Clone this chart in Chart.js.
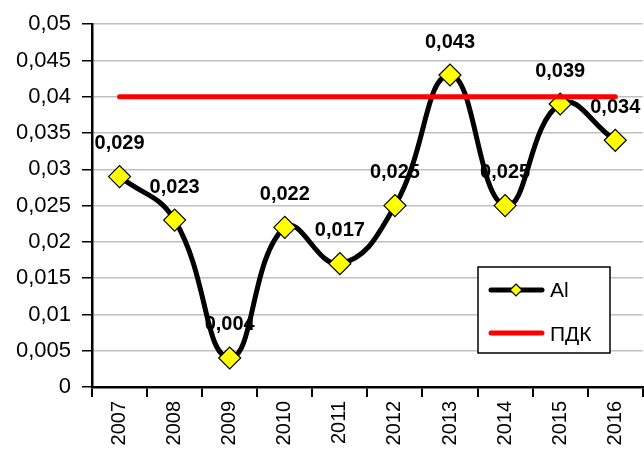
<!DOCTYPE html>
<html lang="ru">
<head>
<meta charset="UTF-8">
<title>Al</title>
<script src="https://cdn.jsdelivr.net/npm/chart.js@4.4.1/dist/chart.umd.min.js"></script>
<style>
  html, body { margin: 0; padding: 0; background: #fff; overflow: hidden; }
  #wrap { width: 655px; height: 451px; }
</style>
</head>
<body>
<div id="wrap"><canvas id="chart"></canvas></div>
<script>
    // chart data
    const years = ['2007', '2008', '2009', '2010', '2011', '2012', '2013', '2014', '2015', '2016'];
    const alValues = [0.029, 0.023, 0.004, 0.022, 0.017, 0.025, 0.043, 0.025, 0.039, 0.034];
    const pdkValues = [0.04, 0.04, 0.04, 0.04, 0.04, 0.04, 0.04, 0.04, 0.04, 0.04];
    const yTicks = [0, 0.005, 0.01, 0.015, 0.02, 0.025, 0.03, 0.035, 0.04, 0.045, 0.05];

    const fmt = v => String(v).replace('.', ',');
    const font = "'Liberation Sans', Arial, sans-serif";

    // bold value labels above Al points
    const valueLabels = {
        id: 'valueLabels',
        afterDatasetsDraw(chart) {
            const ctx = chart.ctx;
            const meta = chart.getDatasetMeta(1);
            ctx.save();
            ctx.font = 'bold 20px ' + font;
            ctx.fillStyle = '#000';
            ctx.textAlign = 'center';
            ctx.textBaseline = 'middle';
            meta.data.forEach((pt, i) => {
                ctx.fillText(fmt(alValues[i]), pt.x, pt.y - 33);
            });
            ctx.restore();
        }
    };

    // legend box inside plot area
    const boxLegend = {
        id: 'boxLegend',
        afterDraw(chart) {
            const ctx = chart.ctx;
            const x = 478, y = 267, w = 132, h = 86;
            ctx.save();
            ctx.fillStyle = '#fff';
            ctx.fillRect(x, y, w, h);
            ctx.strokeStyle = '#000';
            ctx.lineWidth = 1.5;
            ctx.strokeRect(x, y, w, h);
            ctx.lineCap = 'round';
            // Al
            ctx.strokeStyle = '#000';
            ctx.lineWidth = 5;
            ctx.beginPath(); ctx.moveTo(491, 290); ctx.lineTo(542, 290); ctx.stroke();
            ctx.fillStyle = '#ffff00';
            ctx.lineWidth = 1.2;
            ctx.beginPath();
            ctx.moveTo(516, 284); ctx.lineTo(522, 290); ctx.lineTo(516, 296); ctx.lineTo(510, 290);
            ctx.closePath(); ctx.fill(); ctx.stroke();
            // ПДК
            ctx.strokeStyle = '#ff0000';
            ctx.lineWidth = 5;
            ctx.beginPath(); ctx.moveTo(491, 333); ctx.lineTo(542, 333); ctx.stroke();
            ctx.fillStyle = '#000';
            ctx.font = '21px ' + font;
            ctx.textBaseline = 'middle';
            ctx.fillText(chart.data.datasets[1].label, 550, 291);
            ctx.fillText(chart.data.datasets[0].label, 550, 335);
            ctx.restore();
        }
    };

    new Chart(document.getElementById('chart'), {
        type: 'line',
        data: {
            labels: years,
            datasets: [{
                label: 'ПДК',
                data: pdkValues,
                borderColor: '#ff0000',
                borderWidth: 5,
                borderCapStyle: 'round',
                pointRadius: 0,
                tension: 0
            }, {
                label: 'Al',
                data: alValues,
                borderColor: '#000',
                borderWidth: 5,
                tension: 0.45,
                pointStyle: 'rectRot',
                pointRadius: 11,
                pointBackgroundColor: '#ffff00',
                pointBorderColor: '#000',
                pointBorderWidth: 1.2
            }]
        },
        options: {
            responsive: true,
            maintainAspectRatio: false,
            animation: false,
            layout: { padding: { top: 24, right: 0, left: 0, bottom: 0 } },
            plugins: {
                legend: { display: false },
                tooltip: { enabled: false }
            },
            scales: {
                x: {
                    offset: true,
                    grid: { offset: true, drawOnChartArea: false, color: '#000', lineWidth: 2, tickLength: 10 },
                    border: { color: '#000', width: 2.5 },
                    ticks: { color: '#000', font: { family: font, size: 20 }, minRotation: 90, maxRotation: 90, padding: 4 },
                    afterFit(scale) { scale.height = 64; }
                },
                y: {
                    min: 0,
                    max: 0.05,
                    afterBuildTicks(scale) { scale.ticks = yTicks.map(v => ({ value: v })); },
                    grid: { color: '#c0c0c0', lineWidth: 1.5, tickLength: 10,
                            tickColor: '#000' },
                    border: { color: '#000', width: 2.5 },
                    ticks: { color: '#000', font: { family: font, size: 22 }, padding: 11,
                             callback: v => fmt(v) },
                    afterFit(scale) { scale.width = 92; }
                }
            }
        },
        plugins: [valueLabels, boxLegend]
    });
</script>
</body>
</html>
